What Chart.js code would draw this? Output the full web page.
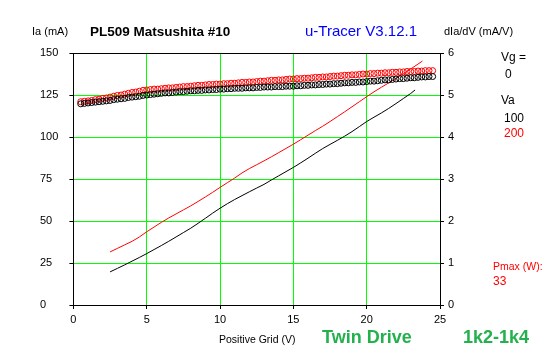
<!DOCTYPE html>
<html>
<head>
<meta charset="utf-8">
<script src="https://cdn.jsdelivr.net/npm/chart.js@4/dist/chart.umd.min.js"></script>
<style>
html,body{margin:0;padding:0;background:#fff;}
canvas{display:block;}
</style>
</head>
<body>
<canvas id="c" width="547" height="357"></canvas>
<script>
// ---- data ----
const xTicks = [0, 5, 10, 15, 20, 25];
const yTicks = [0, 25, 50, 75, 100, 125, 150];
const y2Ticks = [0, 1, 2, 3, 4, 5, 6];

// Ia curves (left axis, mA)
const ia100V = [2.5,3,3.5,4,4.5,5,5.5,6,6.5,7,7.5,8,8.5,9,9.5,10,10.5,11,11.5,12,12.5,13,13.5,14,14.5,15,15.5,16,16.5,17,17.5,18,18.5,19,19.5,20,20.5,21,21.5,22,22.5,23,23.3];
const ia100 = [19.7,21.8,23.9,26.1,28.3,30.6,33.0,35.4,37.9,40.5,43.1,45.7,48.6,51.6,54.7,57.6,60.3,62.8,65.1,67.4,69.6,71.8,74.4,76.9,79.4,81.9,84.6,87.4,90.3,93.1,95.6,98.0,100.5,103.2,106.2,109.2,111.8,114.3,117.0,119.9,122.9,125.9,128.0];
const ia200V = [2.5,3,3.5,4,4.5,5,5.5,6,6.5,7,7.5,8,8.5,9,9.5,10,10.5,11,11.5,12,12.5,13,13.5,14,14.5,15,15.5,16,16.5,17,17.5,18,18.5,19,19.5,20,20.5,21,21.5,22,22.5,23,23.5,23.8];
const ia200 = [31.6,33.7,35.8,37.9,40.5,43.6,46.4,49.2,51.8,54.2,56.6,59.0,61.6,64.3,67.1,70.0,72.8,75.6,78.6,81.2,83.5,85.8,88.2,90.7,93.2,95.7,98.4,101.1,103.8,106.4,109.2,112.1,115.0,118.0,121.0,124.0,126.9,129.6,132.2,134.9,137.7,140.5,143.4,145.2];

// gm curves (right axis, mA/V)
const gmV = [0.5,0.75,1,1.25,1.5,1.75,2,2.25,2.5,2.75,3,3.25,3.5,3.75,4,4.25,4.5,4.75,5,5.25,5.5,5.75,6,6.25,6.5,6.75,7,7.25,7.5,7.75,8,8.25,8.5,8.75,9,9.25,9.5,9.75,10,10.25,10.5,10.75,11,11.25,11.5,11.75,12,12.25,12.5,12.75,13,13.25,13.5,13.75,14,14.25,14.5,14.75,15,15.25,15.5,15.75,16,16.25,16.5,16.75,17,17.25,17.5,17.75,18,18.25,18.5,18.75,19,19.25,19.5,19.75,20,20.25,20.5,20.75,21,21.25,21.5,21.75,22,22.25,22.5,22.75,23,23.25,23.5,23.75,24,24.25,24.5];
const gm200 = [4.84,4.85,4.86,4.87,4.89,4.90,4.92,4.93,4.95,4.97,4.99,5.00,5.02,5.04,5.06,5.07,5.09,5.11,5.12,5.13,5.14,5.14,5.15,5.16,5.17,5.17,5.18,5.19,5.20,5.20,5.21,5.22,5.23,5.23,5.24,5.25,5.25,5.26,5.26,5.27,5.27,5.28,5.28,5.29,5.30,5.30,5.31,5.31,5.32,5.33,5.33,5.34,5.35,5.35,5.36,5.36,5.37,5.38,5.38,5.39,5.39,5.40,5.40,5.41,5.42,5.42,5.43,5.43,5.44,5.45,5.45,5.46,5.47,5.47,5.48,5.48,5.49,5.50,5.50,5.51,5.51,5.52,5.52,5.53,5.53,5.54,5.54,5.55,5.55,5.56,5.56,5.56,5.57,5.57,5.58,5.58,5.58];
const gm100 = [4.79,4.80,4.81,4.82,4.83,4.84,4.85,4.86,4.87,4.89,4.90,4.91,4.92,4.94,4.95,4.96,4.97,4.99,5.00,5.01,5.02,5.03,5.04,5.05,5.05,5.06,5.07,5.08,5.08,5.09,5.10,5.10,5.11,5.11,5.12,5.12,5.13,5.13,5.14,5.14,5.15,5.15,5.16,5.16,5.16,5.17,5.17,5.17,5.18,5.18,5.19,5.19,5.19,5.20,5.20,5.20,5.21,5.21,5.21,5.22,5.22,5.23,5.23,5.24,5.24,5.25,5.25,5.26,5.26,5.27,5.27,5.28,5.29,5.29,5.30,5.30,5.31,5.31,5.32,5.33,5.33,5.34,5.35,5.36,5.36,5.37,5.38,5.39,5.39,5.40,5.41,5.41,5.42,5.43,5.43,5.44,5.44];

const pts = (xs, ys) => xs.map((x, i) => ({x: x, y: ys[i]}));

const GREEN = '#00ff00';
const NONE = 'rgba(0,0,0,0)';
const FONT = '"Liberation Sans", Arial, sans-serif';

// horizontal green grid, placed with the y scale
const hGridPlugin = {
  id: 'hgrid',
  beforeDatasetsDraw(chart) {
    const ctx = chart.ctx, a = chart.chartArea, ys = chart.scales.y;
    ctx.save();
    ctx.fillStyle = GREEN;
    yTicks.slice(1, -1).forEach(v => {
      const py = Math.floor(ys.getPixelForValue(v));
      ctx.fillRect(Math.ceil(a.left), py, Math.floor(a.right) - Math.ceil(a.left), 1);
    });
    ctx.restore();
  }
};

const textPlugin = {
  id: 'texts',
  afterDraw(chart) {
    const ctx = chart.ctx;
    ctx.save();
    ctx.textBaseline = 'middle';
    ctx.textAlign = 'left';
    const t = (s, x, y, font, color) => { ctx.font = font; ctx.fillStyle = color; ctx.fillText(s, x, y); };
    t('Ia (mA)', 32, 32, '11px ' + FONT, '#000');
    t('PL509 Matsushita #10', 90, 32, 'bold 13.5px ' + FONT, '#000');
    t('u-Tracer V3.12.1', 305, 32, '15px ' + FONT, '#0000ff');
    t('dIa/dV (mA/V)', 444, 32, '11px ' + FONT, '#000');
    t('Vg =', 501, 58, '12px ' + FONT, '#000');
    t('0', 505, 75, '12px ' + FONT, '#000');
    t('Va', 501, 101, '12px ' + FONT, '#000');
    t('100', 504, 118.5, '12px ' + FONT, '#000');
    t('200', 504, 133.5, '12px ' + FONT, '#ff0000');
    t('Pmax (W):', 493, 267, '10.5px ' + FONT, '#ff0000');
    t('33', 493, 282, '12px ' + FONT, '#ff0000');
    t('Positive Grid (V)', 219, 340, '10.5px ' + FONT, '#000');
    t('Twin Drive', 322, 338, 'bold 18px ' + FONT, '#22b14c');
    t('1k2-1k4', 463, 338, 'bold 18px ' + FONT, '#22b14c');
    ctx.restore();
  }
};

new Chart(document.getElementById('c'), {
  type: 'scatter',
  data: {
    datasets: [
      {data: pts(gmV, gm100), yAxisID: 'y2', showLine: false, pointStyle: 'circle', pointRadius: 3, borderWidth: 1, borderColor: '#000', backgroundColor: 'rgba(0,0,0,0)'},
      {data: pts(gmV, gm200), yAxisID: 'y2', showLine: false, pointStyle: 'circle', pointRadius: 3, borderWidth: 1, borderColor: '#ff0000', backgroundColor: 'rgba(0,0,0,0)'},
      {data: pts(ia100V, ia100), yAxisID: 'y', showLine: true, pointRadius: 0, borderWidth: 1, borderColor: '#000', tension: 0},
      {data: pts(ia200V, ia200), yAxisID: 'y', showLine: true, pointRadius: 0, borderWidth: 1, borderColor: '#ff0000', tension: 0}
    ]
  },
  options: {
    responsive: false,
    animation: false,
    devicePixelRatio: 1,
    events: [],
    layout: {padding: {left: 40, right: 0, top: 53, bottom: 0}},
    plugins: {legend: {display: false}, tooltip: {enabled: false}, title: {display: false}},
    scales: {
      x: {
        type: 'linear', min: xTicks[0], max: xTicks[xTicks.length - 1],
        afterBuildTicks: s => { s.ticks = xTicks.map(v => ({value: v})); },
        afterFit: s => { s.height = 52; },
        ticks: {color: '#000', font: {size: 11, family: FONT}, padding: 4, maxRotation: 0},
        grid: {color: ['#000', GREEN, GREEN, GREEN, GREEN, '#000'], tickColor: '#000', tickLength: 4, lineWidth: 1},
        border: {display: true, color: '#000'}
      },
      y: {
        type: 'linear', position: 'left', min: yTicks[0], max: yTicks[yTicks.length - 1],
        afterBuildTicks: s => { s.ticks = yTicks.map(v => ({value: v})); },
        afterFit: s => { s.width = 33.4; },
        ticks: {color: '#000', font: {size: 11, family: FONT}, crossAlign: 'far', padding: 4},
        grid: {color: ['#000', NONE, NONE, NONE, NONE, NONE, '#000'], tickColor: '#000', tickLength: 4, lineWidth: 1},
        border: {display: true, color: '#000'}
      },
      y2: {
        type: 'linear', position: 'right', min: y2Ticks[0], max: y2Ticks[y2Ticks.length - 1],
        afterBuildTicks: s => { s.ticks = y2Ticks.map(v => ({value: v})); },
        afterFit: s => { s.width = 107; },
        ticks: {color: '#000', font: {size: 11, family: FONT}, padding: 4, crossAlign: 'near'},
        grid: {drawOnChartArea: false, color: '#000', tickColor: '#000', tickLength: 4},
        border: {display: true, color: '#000'}
      }
    }
  },
  plugins: [hGridPlugin, textPlugin]
});
</script>
</body>
</html>
